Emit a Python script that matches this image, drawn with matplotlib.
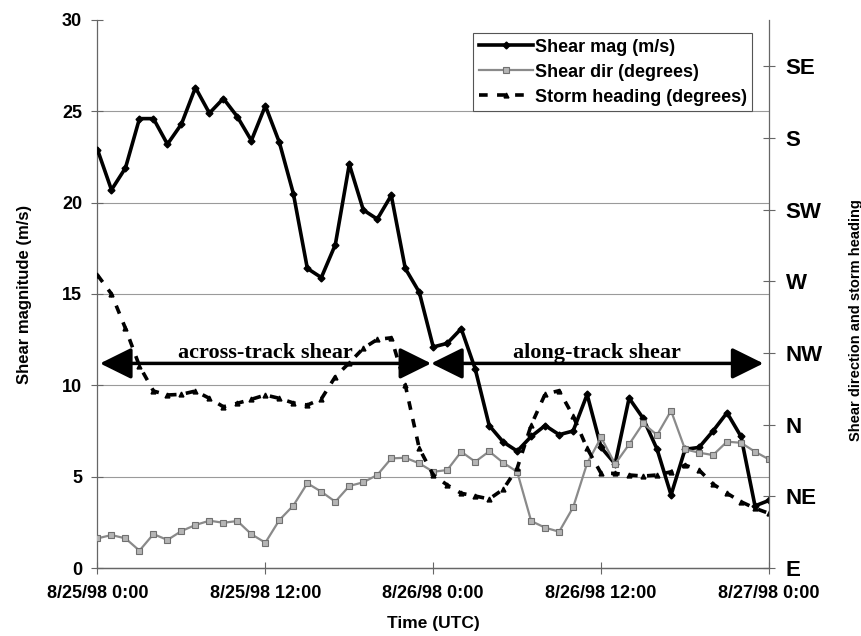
import matplotlib.pyplot as plt

# hourly samples, 8/25/98 0:00 -> 8/27/98 0:00
hours = list(range(49))

shear_mag = [22.9, 20.7, 21.9, 24.6, 24.6, 23.2, 24.3, 26.3, 24.9, 25.7,
             24.7, 23.4, 25.3, 23.3, 20.5, 16.4, 15.9, 17.7, 22.1, 19.6,
             19.1, 20.4, 16.4, 15.1, 12.1, 12.3, 13.1, 10.9, 7.8, 6.9,
             6.4, 7.2, 7.8, 7.3, 7.5, 9.5, 6.6, 5.7, 9.3, 8.2,
             6.5, 4.0, 6.5, 6.6, 7.5, 8.5, 7.2, 3.4, 3.7]

# degrees, counter-clockwise from east
shear_dir = [18.6, 20.7, 18.6, 10.9, 21.3, 17.6, 23.2, 27.0, 29.7, 28.4,
             29.5, 21.2, 15.9, 30.1, 39.2, 53.2, 47.9, 41.6, 51.5, 53.8,
             58.4, 68.8, 69.2, 65.7, 60.4, 61.5, 73.0, 66.7, 73.2, 66.1,
             60.4, 29.5, 25.3, 22.8, 38.1, 65.7, 82.0, 65.3, 77.6, 90.8,
             83.5, 98.7, 74.5, 72.4, 70.9, 79.3, 78.6, 73.0, 68.2]

storm_heading = [183.9, 172.0, 150.4, 126.8, 111.1, 108.6, 109.0, 111.1, 106.5, 101.2,
                 103.4, 105.9, 108.6, 106.5, 103.6, 102.3, 106.1, 120.1, 128.8, 137.9,
                 143.5, 144.5, 114.9, 75.1, 58.4, 52.1, 46.9, 45.2, 43.3, 49.4,
                 62.6, 89.7, 109.2, 111.3, 95.4, 75.1, 59.4, 59.4, 58.4, 57.7,
                 58.4, 60.4, 64.6, 61.5, 52.7, 46.9, 41.6, 37.5, 34.3]

time_ticks = [0, 12, 24, 36, 48]
time_labels = ['8/25/98 0:00', '8/25/98 12:00', '8/26/98 0:00',
               '8/26/98 12:00', '8/27/98 0:00']
mag_ticks = [0, 5, 10, 15, 20, 25, 30]
dir_ticks = [0, 45, 90, 135, 180, 225, 270, 315]
dir_labels = ['E', 'NE', 'N', 'NW', 'W', 'SW', 'S', 'SE']

# regime arrows: (start hour, end hour, label)
regimes = [(0.18, 23.85, 'across-track shear'),
           (23.85, 47.6, 'along-track shear')]
regime_level = 11.2

plt.rcParams['font.family'] = 'Liberation Sans'
plt.rcParams['font.weight'] = 'bold'
plt.rcParams['axes.labelweight'] = 'bold'

fig = plt.figure(figsize=(8.62, 6.36), dpi=100)
ax = fig.add_axes([0.1131, 0.1069, 0.7790, 0.8617])
ax2 = ax.twinx()

spine_col = '#666666'
ax.set_xlim(0, 48)
ax.set_ylim(0, 30)
ax2.set_ylim(0, 344)

# horizontal gridlines (none on top)
for v in mag_ticks[1:-1]:
    ax.axhline(v, color='#9a9a9a', lw=0.8, zorder=0)

l1, = ax.plot(hours, shear_mag, color='black', lw=2.6, marker='D', ms=3.5,
              label='Shear mag (m/s)', zorder=3)
l2, = ax2.plot(hours, shear_dir, color='#8a8a8a', lw=1.6, marker='s', ms=3.8,
               mfc='#b5b5b5', mec='#707070', mew=0.8, label='Shear dir (degrees)')
l3, = ax2.plot(hours, storm_heading, color='black', lw=2.6, ls=(0, (2.4, 2.6)),
               marker='^', ms=3.5, label='Storm heading (degrees)')

for x0, x1, name in regimes:
    ax2.annotate('', xy=(x0, regime_level), xytext=(x1, regime_level),
                 xycoords=ax.transData, textcoords=ax.transData,
                 arrowprops=dict(arrowstyle='<|-|>,head_length=0.97,head_width=0.48',
                                 mutation_scale=20, lw=2.5, color='black',
                                 shrinkA=0, shrinkB=0))
    ax2.text((x0 + x1) / 2, regime_level + 0.3, name, transform=ax.transData,
             ha='center', va='baseline', family='Liberation Serif',
             fontsize=16, fontweight='bold')

ax.set_xticks(time_ticks)
ax.set_xticklabels(time_labels, fontsize=13)
ax.set_yticks(mag_ticks)
ax.tick_params(axis='y', labelsize=13, direction='inout', length=8, pad=7,
               color=spine_col)
ax.tick_params(axis='x', direction='inout', length=8, pad=8, color=spine_col)
ax2.set_yticks(dir_ticks)
ax2.set_yticklabels(dir_labels, fontsize=16)
ax2.tick_params(axis='y', direction='inout', length=8, pad=8, color=spine_col)

for a in (ax, ax2):
    a.spines['top'].set_visible(False)
    for s in ('left', 'right', 'bottom'):
        a.spines[s].set_color(spine_col)
        a.spines[s].set_linewidth(0.9)
ax2.spines['left'].set_visible(False)
ax.spines['right'].set_visible(False)

ax.set_xlabel('Time (UTC)', fontsize=12.5, labelpad=10)
ax.set_ylabel('Shear magnitude (m/s)', fontsize=12, labelpad=22)
fig.text(0.993, 0.497, 'Shear direction and storm heading', rotation=90,
         ha='center', va='center', fontsize=10.5, fontweight='bold')

leg = ax2.legend([l1, l2, l3], [l.get_label() for l in (l1, l2, l3)],
                 loc='upper right', bbox_to_anchor=(0.975, 0.976),
                 borderaxespad=0, fontsize=13, handlelength=3.0,
                 handletextpad=0.1, labelspacing=0.45, borderpad=0.3,
                 fancybox=False, edgecolor='#555555', framealpha=1)
leg.get_frame().set_linewidth(0.8)

fig.savefig('out.png', dpi=100)
